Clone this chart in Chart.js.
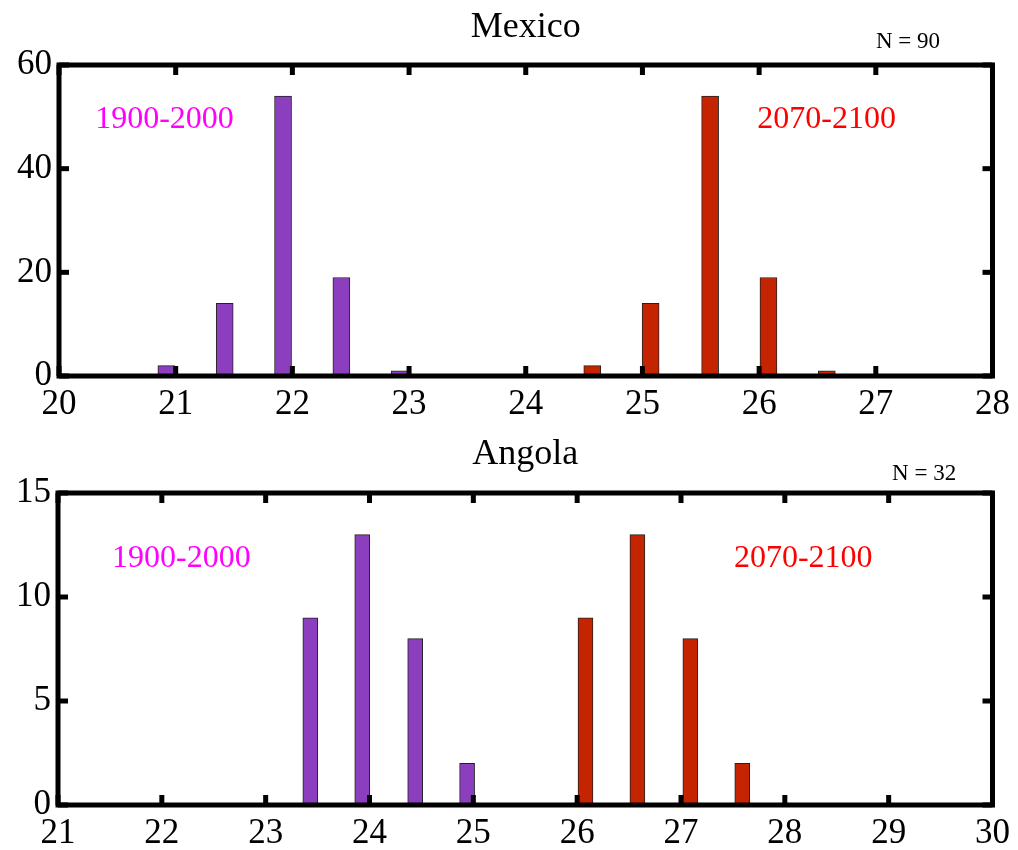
<!DOCTYPE html>
<html><head><meta charset="utf-8">
<script src="https://cdn.jsdelivr.net/npm/chart.js@4/dist/chart.umd.min.js"></script>
<style>
html,body{margin:0;padding:0;background:#fff;}
#wrap{position:relative;width:1018px;height:850px;}
canvas{position:absolute;left:0;}
</style></head><body>
<div id="wrap">
<canvas id="c1" width="1018" height="425" style="top:0;width:1018px;height:425px"></canvas>
<canvas id="c2" width="1018" height="425" style="top:425px;width:1018px;height:425px"></canvas>
</div>
<script>
// ---- data ----
const mexicoBins1900 = [20.92, 21.42, 21.92, 22.42, 22.92];
const mexicoCounts1900 = [2, 14, 54, 19, 1];
const mexicoBins2070 = [24.57, 25.07, 25.58, 26.08, 26.58];
const mexicoCounts2070 = [2, 14, 54, 19, 1];
const mexicoXRange = [20, 28];
const mexicoYTicks = [0, 20, 40, 60];

const angolaBins1900 = [23.43, 23.93, 24.44, 24.94];
const angolaCounts1900 = [9, 13, 8, 2];
const angolaBins2070 = [26.08, 26.58, 27.09, 27.59];
const angolaCounts2070 = [9, 13, 8, 2];
const angolaXRange = [21, 30];
const angolaYTicks = [0, 5, 10, 15];

const periodLabels = ['1900-2000', '2070-2100'];
const titles = ['Mexico', 'Angola'];
const nLabels = ['N = 90', 'N = 32'];

const PURPLE = 'rgb(139,63,190)';
const RED = 'rgb(196,36,0)';
const SERIF = '"Liberation Serif", "Times New Roman", serif';

function toPts(xs, ys) { return xs.map((x, i) => ({x: x, y: ys[i]})); }

function makeChart(id, cfg) {
  const framePlugin = {
    id: 'frame',
    afterDraw(chart) {
      const {ctx, chartArea: a, scales: {x, y}} = chart;
      ctx.save();
      ctx.fillStyle = '#000';
      // inward tick marks
      x.ticks.forEach(t => {
        const px = x.getPixelForValue(t.value);
        ctx.fillRect(px - 2.5, a.top, 5, 10);
        ctx.fillRect(px - 2.5, a.bottom - 10, 5, 10);
      });
      y.ticks.forEach(t => {
        const py = y.getPixelForValue(t.value);
        ctx.fillRect(a.left, py - 2.5, 10, 5);
        ctx.fillRect(a.right - 10, py - 2.5, 10, 5);
      });
      ctx.strokeStyle = '#000';
      ctx.lineWidth = 5;
      ctx.strokeRect(a.left, a.top, a.right - a.left, a.bottom - a.top);
      // title
      ctx.textAlign = 'center';
      ctx.textBaseline = 'alphabetic';
      ctx.font = '36px ' + SERIF;
      ctx.fillText(cfg.title, (a.left + a.right) / 2, a.top - cfg.titleGap);
      // N label
      ctx.textAlign = 'right';
      ctx.font = '23px ' + SERIF;
      ctx.fillText(cfg.nLabel, x.getPixelForValue(cfg.nPos[0]), y.getPixelForValue(cfg.nPos[1]));
      // period labels
      ctx.textAlign = 'left';
      ctx.font = '32px ' + SERIF;
      ctx.fillStyle = '#ff00ff';
      ctx.fillText(periodLabels[0], x.getPixelForValue(cfg.lab1[0]), y.getPixelForValue(cfg.lab1[1]));
      ctx.fillStyle = '#ff0000';
      ctx.fillText(periodLabels[1], x.getPixelForValue(cfg.lab2[0]), y.getPixelForValue(cfg.lab2[1]));
      ctx.restore();
    }
  };
  return new Chart(document.getElementById(id), {
    type: 'bar',
    data: {
      datasets: [
        {data: toPts(cfg.b1, cfg.c1), backgroundColor: PURPLE, borderColor: '#222', borderWidth: 1, barThickness: cfg.bw, grouped: false},
        {data: toPts(cfg.b2, cfg.c2), backgroundColor: RED, borderColor: '#222', borderWidth: 1, barThickness: cfg.bw, grouped: false}
      ]
    },
    options: {
      responsive: false,
      animation: false,
      layout: {padding: cfg.pad},
      plugins: {legend: {display: false}, tooltip: {enabled: false}, title: {display: false}},
      scales: {
        x: {
          type: 'linear', offset: false, min: cfg.xr[0], max: cfg.xr[1],
          grid: {display: false, drawTicks: false, offset: false}, border: {display: false},
          ticks: {stepSize: 1, color: '#000', font: {family: SERIF, size: 35}, padding: 8, maxRotation: 0, autoSkip: false},
          afterFit: s => { s.height = 40; }
        },
        y: {
          min: cfg.yt[0], max: cfg.yt[cfg.yt.length - 1],
          grid: {display: false, drawTicks: false}, border: {display: false},
          ticks: {stepSize: cfg.yt[1] - cfg.yt[0], color: '#000', font: {family: SERIF, size: 35}, padding: 7},
          afterFit: s => { s.width = cfg.yw; }
        }
      }
    },
    plugins: [framePlugin]
  });
}

makeChart('c1', {
  b1: mexicoBins1900, c1: mexicoCounts1900, b2: mexicoBins2070, c2: mexicoCounts2070,
  xr: mexicoXRange, yt: mexicoYTicks, bw: 17,
  pad: {top: 65, bottom: 9, left: 0, right: 22}, yw: 59,
  title: titles[0], titleGap: 28, nLabel: nLabels[0], nPos: [27.55, 63.2],
  lab1: [20.31, 47.8], lab2: [25.985, 47.8]
});
makeChart('c2', {
  b1: angolaBins1900, c1: angolaCounts1900, b2: angolaBins2070, c2: angolaCounts2070,
  xr: angolaXRange, yt: angolaYTicks, bw: 15,
  pad: {top: 68, bottom: 5, left: 0, right: 24}, yw: 58,
  title: titles[1], titleGap: 29, nLabel: nLabels[1], nPos: [29.65, 15.63],
  lab1: [21.52, 11.44], lab2: [27.51, 11.44]
});
</script>
</body></html>
